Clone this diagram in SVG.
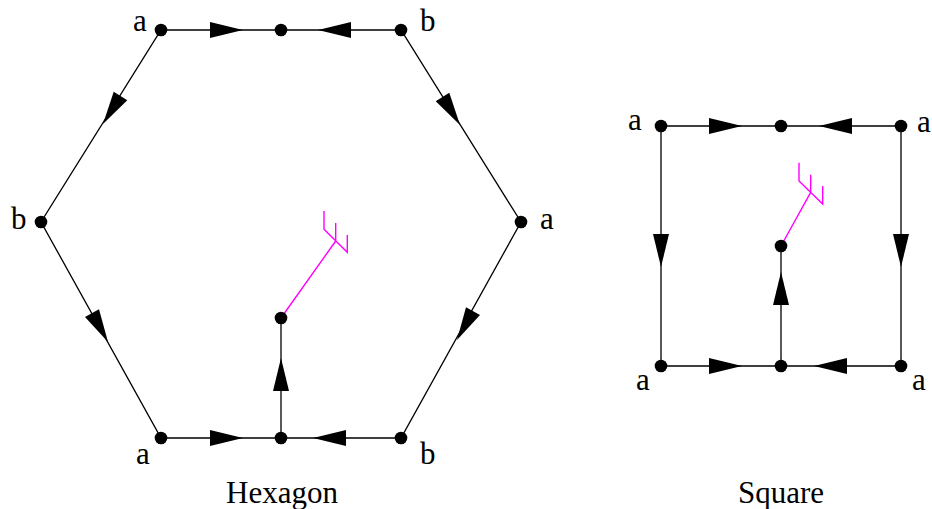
<svg xmlns="http://www.w3.org/2000/svg" width="932" height="509" viewBox="0 0 932 509">
<style>
.e{stroke:#000;stroke-width:1.3;fill:none}
.m{stroke:#ff00ff;stroke-width:1.4;fill:none}
.d{fill:#000}
.t{font-family:"Liberation Serif","DejaVu Serif",serif;font-size:31px;fill:#000}
.c{text-anchor:middle}
</style>
<defs>
<path id="ah" d="M0,0 L-33,-8 L-33,8 Z" fill="#000"/>
</defs>
<rect width="932" height="509" fill="#fff"/>
<g id="connectors">
<path class="e" d="M161,30 L401,30 L521,222 L401,438 L161,438 L41,222 Z"/>
<path class="e" d="M281,438 L281,318"/>
<path class="e" d="M661,126 L901,126 L901,366 L661,366 Z"/>
<path class="e" d="M781,366 L781,246"/>
<use href="#ah" transform="translate(243,30)"/>
<use href="#ah" transform="translate(318,30) rotate(180)"/>
<use href="#ah" transform="translate(243,438)"/>
<use href="#ah" transform="translate(313,438) rotate(180)"/>
<use href="#ah" transform="translate(281,358) rotate(-90)"/>
<use href="#ah" transform="translate(103,124) rotate(122)"/>
<use href="#ah" transform="translate(460,125) rotate(58)"/>
<use href="#ah" transform="translate(108,342) rotate(61)"/>
<use href="#ah" transform="translate(457,340) rotate(119)"/>
<use href="#ah" transform="translate(742,126)"/>
<use href="#ah" transform="translate(819,126) rotate(180)"/>
<use href="#ah" transform="translate(742,366)"/>
<use href="#ah" transform="translate(814,366) rotate(180)"/>
<use href="#ah" transform="translate(661,267) rotate(90)"/>
<use href="#ah" transform="translate(901,267) rotate(90)"/>
<use href="#ah" transform="translate(781,272) rotate(-90)"/>
<path class="m" d="M281,318 L335.7,241 M324,211 L324,229.3 L347.3,252.3 L347.3,235 M335.7,241 L335.7,223"/>
<path class="m" d="M781,246 L810.7,192.3 M799,162.7 L799,181 L822.7,204 L822.7,186 M810.7,192.3 L810.7,174.7"/>
</g>
<g id="hexagon">
<circle class="d" cx="161" cy="30" r="6.3"/>
<circle class="d" cx="281" cy="30" r="6.3"/>
<circle class="d" cx="401" cy="30" r="6.3"/>
<circle class="d" cx="521" cy="222" r="6.3"/>
<circle class="d" cx="401" cy="438" r="6.3"/>
<circle class="d" cx="281" cy="438" r="6.3"/>
<circle class="d" cx="161" cy="438" r="6.3"/>
<circle class="d" cx="41" cy="222" r="6.3"/>
<circle class="d" cx="281" cy="318" r="6.3"/>
<text class="t" x="133" y="31">a</text>
<text class="t" x="420" y="31">b</text>
<text class="t" x="11" y="229">b</text>
<text class="t" x="540" y="229">a</text>
<text class="t" x="136" y="464">a</text>
<text class="t" x="420" y="464">b</text>
<text class="t c" x="282" y="503">Hexagon</text>
</g>
<g id="square">
<circle class="d" cx="661" cy="126" r="6.3"/>
<circle class="d" cx="781" cy="126" r="6.3"/>
<circle class="d" cx="901" cy="126" r="6.3"/>
<circle class="d" cx="661" cy="366" r="6.3"/>
<circle class="d" cx="781" cy="366" r="6.3"/>
<circle class="d" cx="901" cy="366" r="6.3"/>
<circle class="d" cx="781" cy="246" r="6.3"/>
<text class="t" x="628" y="130">a</text>
<text class="t" x="917" y="132">a</text>
<text class="t" x="636" y="390">a</text>
<text class="t" x="912" y="390">a</text>
<text class="t c" x="781" y="503">Square</text>
</g>
</svg>
